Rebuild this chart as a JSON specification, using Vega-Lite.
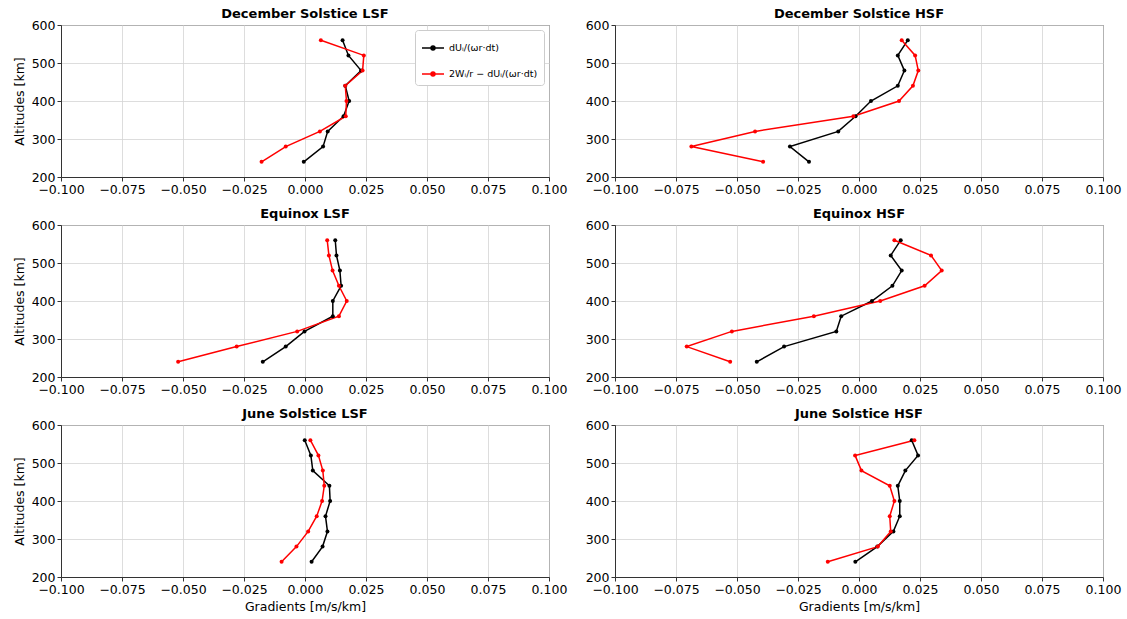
{
  "$schema": "https://vega.github.io/schema/vega-lite/v6.json",
  "background": "white",
  "padding": {"left": 12, "top": 7, "right": 5, "bottom": 3},
  "bounds": "flush",
  "columns": 2,
  "spacing": {"row": 48, "column": 66},
  "resolve": {"scale": {"color": "independent"}, "legend": {"color": "independent"}},
  "config": {
    "font": "DejaVu Sans",
    "view": {"stroke": "#333333", "strokeWidth": 1},
    "title": {"font": "DejaVu Sans", "fontSize": 13, "fontWeight": "bold", "color": "#000000", "offset": -2, "anchor": "middle"},
    "axis": {
      "labelFont": "DejaVu Sans", "labelFontSize": 12.5, "labelColor": "#000000",
      "titleFont": "DejaVu Sans", "titleFontSize": 12.5, "titleFontWeight": "normal", "titleColor": "#000000",
      "tickColor": "#333333", "tickSize": 4, "domainColor": "#333333", "labelPadding": 2,
      "gridColor": "#d4d4d4", "gridWidth": 0.8, "labelFlush": false, "labelOverlap": false, "titlePadding": 5
    }
  },
  "data": {"values": [
    {"p":"DL","s":"A","alt":240,"v":-0.0005},{"p":"DL","s":"A","alt":280,"v":0.0074},{"p":"DL","s":"A","alt":320,"v":0.0093},{"p":"DL","s":"A","alt":360,"v":0.0158},{"p":"DL","s":"A","alt":400,"v":0.0181},{"p":"DL","s":"A","alt":440,"v":0.0165},{"p":"DL","s":"A","alt":480,"v":0.0230},{"p":"DL","s":"A","alt":520,"v":0.0178},{"p":"DL","s":"A","alt":560,"v":0.0154},
    {"p":"DL","s":"B","alt":240,"v":-0.0178},{"p":"DL","s":"B","alt":280,"v":-0.0079},{"p":"DL","s":"B","alt":320,"v":0.0061},{"p":"DL","s":"B","alt":360,"v":0.0167},{"p":"DL","s":"B","alt":400,"v":0.0170},{"p":"DL","s":"B","alt":440,"v":0.0165},{"p":"DL","s":"B","alt":480,"v":0.0236},{"p":"DL","s":"B","alt":520,"v":0.0241},{"p":"DL","s":"B","alt":560,"v":0.0065},
    {"p":"DH","s":"A","alt":240,"v":-0.0205},{"p":"DH","s":"A","alt":280,"v":-0.0283},{"p":"DH","s":"A","alt":320,"v":-0.0085},{"p":"DH","s":"A","alt":360,"v":-0.0014},{"p":"DH","s":"A","alt":400,"v":0.0049},{"p":"DH","s":"A","alt":440,"v":0.0159},{"p":"DH","s":"A","alt":480,"v":0.0186},{"p":"DH","s":"A","alt":520,"v":0.0159},{"p":"DH","s":"A","alt":560,"v":0.0200},
    {"p":"DH","s":"B","alt":240,"v":-0.0393},{"p":"DH","s":"B","alt":280,"v":-0.0687},{"p":"DH","s":"B","alt":320,"v":-0.0426},{"p":"DH","s":"B","alt":360,"v":-0.0023},{"p":"DH","s":"B","alt":400,"v":0.0164},{"p":"DH","s":"B","alt":440,"v":0.0221},{"p":"DH","s":"B","alt":480,"v":0.0243},{"p":"DH","s":"B","alt":520,"v":0.0230},{"p":"DH","s":"B","alt":560,"v":0.0175},
    {"p":"EL","s":"A","alt":240,"v":-0.0173},{"p":"EL","s":"A","alt":280,"v":-0.0079},{"p":"EL","s":"A","alt":320,"v":-0.0002},{"p":"EL","s":"A","alt":360,"v":0.0114},{"p":"EL","s":"A","alt":400,"v":0.0114},{"p":"EL","s":"A","alt":440,"v":0.0148},{"p":"EL","s":"A","alt":480,"v":0.0143},{"p":"EL","s":"A","alt":520,"v":0.0129},{"p":"EL","s":"A","alt":560,"v":0.0124},
    {"p":"EL","s":"B","alt":240,"v":-0.0520},{"p":"EL","s":"B","alt":280,"v":-0.0280},{"p":"EL","s":"B","alt":320,"v":-0.0032},{"p":"EL","s":"B","alt":360,"v":0.0139},{"p":"EL","s":"B","alt":400,"v":0.0171},{"p":"EL","s":"B","alt":440,"v":0.0139},{"p":"EL","s":"B","alt":480,"v":0.0113},{"p":"EL","s":"B","alt":520,"v":0.0098},{"p":"EL","s":"B","alt":560,"v":0.0091},
    {"p":"EH","s":"A","alt":240,"v":-0.0419},{"p":"EH","s":"A","alt":280,"v":-0.0307},{"p":"EH","s":"A","alt":320,"v":-0.0093},{"p":"EH","s":"A","alt":360,"v":-0.0073},{"p":"EH","s":"A","alt":400,"v":0.0053},{"p":"EH","s":"A","alt":440,"v":0.0137},{"p":"EH","s":"A","alt":480,"v":0.0175},{"p":"EH","s":"A","alt":520,"v":0.0130},{"p":"EH","s":"A","alt":560,"v":0.0171},
    {"p":"EH","s":"B","alt":240,"v":-0.0528},{"p":"EH","s":"B","alt":280,"v":-0.0706},{"p":"EH","s":"B","alt":320,"v":-0.0521},{"p":"EH","s":"B","alt":360,"v":-0.0185},{"p":"EH","s":"B","alt":400,"v":0.0087},{"p":"EH","s":"B","alt":440,"v":0.0269},{"p":"EH","s":"B","alt":480,"v":0.0339},{"p":"EH","s":"B","alt":520,"v":0.0295},{"p":"EH","s":"B","alt":560,"v":0.0145},
    {"p":"JL","s":"A","alt":240,"v":0.0027},{"p":"JL","s":"A","alt":280,"v":0.0072},{"p":"JL","s":"A","alt":320,"v":0.0092},{"p":"JL","s":"A","alt":360,"v":0.0084},{"p":"JL","s":"A","alt":400,"v":0.0103},{"p":"JL","s":"A","alt":440,"v":0.0100},{"p":"JL","s":"A","alt":480,"v":0.0032},{"p":"JL","s":"A","alt":520,"v":0.0024},{"p":"JL","s":"A","alt":560,"v":-0.0001},
    {"p":"JL","s":"B","alt":240,"v":-0.0096},{"p":"JL","s":"B","alt":280,"v":-0.0035},{"p":"JL","s":"B","alt":320,"v":0.0013},{"p":"JL","s":"B","alt":360,"v":0.0048},{"p":"JL","s":"B","alt":400,"v":0.0070},{"p":"JL","s":"B","alt":440,"v":0.0079},{"p":"JL","s":"B","alt":480,"v":0.0073},{"p":"JL","s":"B","alt":520,"v":0.0055},{"p":"JL","s":"B","alt":560,"v":0.0022},
    {"p":"JH","s":"A","alt":240,"v":-0.0015},{"p":"JH","s":"A","alt":280,"v":0.0075},{"p":"JH","s":"A","alt":320,"v":0.0141},{"p":"JH","s":"A","alt":360,"v":0.0167},{"p":"JH","s":"A","alt":400,"v":0.0167},{"p":"JH","s":"A","alt":440,"v":0.0159},{"p":"JH","s":"A","alt":480,"v":0.0190},{"p":"JH","s":"A","alt":520,"v":0.0242},{"p":"JH","s":"A","alt":560,"v":0.0216},
    {"p":"JH","s":"B","alt":240,"v":-0.0128},{"p":"JH","s":"B","alt":280,"v":0.0077},{"p":"JH","s":"B","alt":320,"v":0.0130},{"p":"JH","s":"B","alt":360,"v":0.0126},{"p":"JH","s":"B","alt":400,"v":0.0145},{"p":"JH","s":"B","alt":440,"v":0.0126},{"p":"JH","s":"B","alt":480,"v":0.0010},{"p":"JH","s":"B","alt":520,"v":-0.0016},{"p":"JH","s":"B","alt":560,"v":0.0227}
  ]},
  "concat": [
    {
      "title": "December Solstice LSF", "width": 488, "height": 152,
      "transform": [{"filter": "datum.p === 'DL'"}],
      "mark": {"type": "line", "strokeWidth": 1.5, "point": {"filled": true, "size": 16}},
      "encoding": {
        "x": {"field": "v", "type": "quantitative", "scale": {"domain": [-0.1, 0.1], "nice": false, "zero": false}, "axis": {"values": [-0.1, -0.075, -0.05, -0.025, 0, 0.025, 0.05, 0.075, 0.1], "format": ".3f", "title": null}},
        "y": {"field": "alt", "type": "quantitative", "scale": {"domain": [200, 600], "nice": false, "zero": false}, "axis": {"values": [200, 300, 400, 500, 600], "title": "Altitudes [km]"}},
        "color": {"field": "s", "type": "nominal", "scale": {"domain": ["A", "B"], "range": ["#000000", "#ff0000"]},
          "legend": {"title": null, "orient": "top-right", "offset": 5, "fillColor": "white", "strokeColor": "#cccccc", "cornerRadius": 3, "padding": 6, "rowPadding": 9,
            "symbolType": "M-1,0H1M-0.18,0A0.18,0.18,0,1,0,0.18,0A0.18,0.18,0,1,0,-0.18,0Z", "symbolSize": 484, "symbolStrokeWidth": 1.5,
            "labelFont": "DejaVu Sans", "labelFontSize": 9.5, "labelColor": "#000000",
            "labelExpr": "datum.value === 'A' ? 'dUᵢ/(ωr·dt)' : '2Wᵢ/r − dUᵢ/(ωr·dt)'"}},
        "order": {"field": "alt", "type": "quantitative"}
      }
    },
    {
      "title": "December Solstice HSF", "width": 488, "height": 152,
      "transform": [{"filter": "datum.p === 'DH'"}],
      "mark": {"type": "line", "strokeWidth": 1.5, "point": {"filled": true, "size": 16}},
      "encoding": {
        "x": {"field": "v", "type": "quantitative", "scale": {"domain": [-0.1, 0.1], "nice": false, "zero": false}, "axis": {"values": [-0.1, -0.075, -0.05, -0.025, 0, 0.025, 0.05, 0.075, 0.1], "format": ".3f", "title": null}},
        "y": {"field": "alt", "type": "quantitative", "scale": {"domain": [200, 600], "nice": false, "zero": false}, "axis": {"values": [200, 300, 400, 500, 600], "title": null}},
        "color": {"field": "s", "type": "nominal", "scale": {"domain": ["A", "B"], "range": ["#000000", "#ff0000"]}, "legend": null},
        "order": {"field": "alt", "type": "quantitative"}
      }
    },
    {
      "title": "Equinox LSF", "width": 488, "height": 152,
      "transform": [{"filter": "datum.p === 'EL'"}],
      "mark": {"type": "line", "strokeWidth": 1.5, "point": {"filled": true, "size": 16}},
      "encoding": {
        "x": {"field": "v", "type": "quantitative", "scale": {"domain": [-0.1, 0.1], "nice": false, "zero": false}, "axis": {"values": [-0.1, -0.075, -0.05, -0.025, 0, 0.025, 0.05, 0.075, 0.1], "format": ".3f", "title": null}},
        "y": {"field": "alt", "type": "quantitative", "scale": {"domain": [200, 600], "nice": false, "zero": false}, "axis": {"values": [200, 300, 400, 500, 600], "title": "Altitudes [km]"}},
        "color": {"field": "s", "type": "nominal", "scale": {"domain": ["A", "B"], "range": ["#000000", "#ff0000"]}, "legend": null},
        "order": {"field": "alt", "type": "quantitative"}
      }
    },
    {
      "title": "Equinox HSF", "width": 488, "height": 152,
      "transform": [{"filter": "datum.p === 'EH'"}],
      "mark": {"type": "line", "strokeWidth": 1.5, "point": {"filled": true, "size": 16}},
      "encoding": {
        "x": {"field": "v", "type": "quantitative", "scale": {"domain": [-0.1, 0.1], "nice": false, "zero": false}, "axis": {"values": [-0.1, -0.075, -0.05, -0.025, 0, 0.025, 0.05, 0.075, 0.1], "format": ".3f", "title": null}},
        "y": {"field": "alt", "type": "quantitative", "scale": {"domain": [200, 600], "nice": false, "zero": false}, "axis": {"values": [200, 300, 400, 500, 600], "title": null}},
        "color": {"field": "s", "type": "nominal", "scale": {"domain": ["A", "B"], "range": ["#000000", "#ff0000"]}, "legend": null},
        "order": {"field": "alt", "type": "quantitative"}
      }
    },
    {
      "title": "June Solstice LSF", "width": 488, "height": 152,
      "transform": [{"filter": "datum.p === 'JL'"}],
      "mark": {"type": "line", "strokeWidth": 1.5, "point": {"filled": true, "size": 16}},
      "encoding": {
        "x": {"field": "v", "type": "quantitative", "scale": {"domain": [-0.1, 0.1], "nice": false, "zero": false}, "axis": {"values": [-0.1, -0.075, -0.05, -0.025, 0, 0.025, 0.05, 0.075, 0.1], "format": ".3f", "title": "Gradients [m/s/km]"}},
        "y": {"field": "alt", "type": "quantitative", "scale": {"domain": [200, 600], "nice": false, "zero": false}, "axis": {"values": [200, 300, 400, 500, 600], "title": "Altitudes [km]"}},
        "color": {"field": "s", "type": "nominal", "scale": {"domain": ["A", "B"], "range": ["#000000", "#ff0000"]}, "legend": null},
        "order": {"field": "alt", "type": "quantitative"}
      }
    },
    {
      "title": "June Solstice HSF", "width": 488, "height": 152,
      "transform": [{"filter": "datum.p === 'JH'"}],
      "mark": {"type": "line", "strokeWidth": 1.5, "point": {"filled": true, "size": 16}},
      "encoding": {
        "x": {"field": "v", "type": "quantitative", "scale": {"domain": [-0.1, 0.1], "nice": false, "zero": false}, "axis": {"values": [-0.1, -0.075, -0.05, -0.025, 0, 0.025, 0.05, 0.075, 0.1], "format": ".3f", "title": "Gradients [m/s/km]"}},
        "y": {"field": "alt", "type": "quantitative", "scale": {"domain": [200, 600], "nice": false, "zero": false}, "axis": {"values": [200, 300, 400, 500, 600], "title": null}},
        "color": {"field": "s", "type": "nominal", "scale": {"domain": ["A", "B"], "range": ["#000000", "#ff0000"]}, "legend": null},
        "order": {"field": "alt", "type": "quantitative"}
      }
    }
  ]
}
